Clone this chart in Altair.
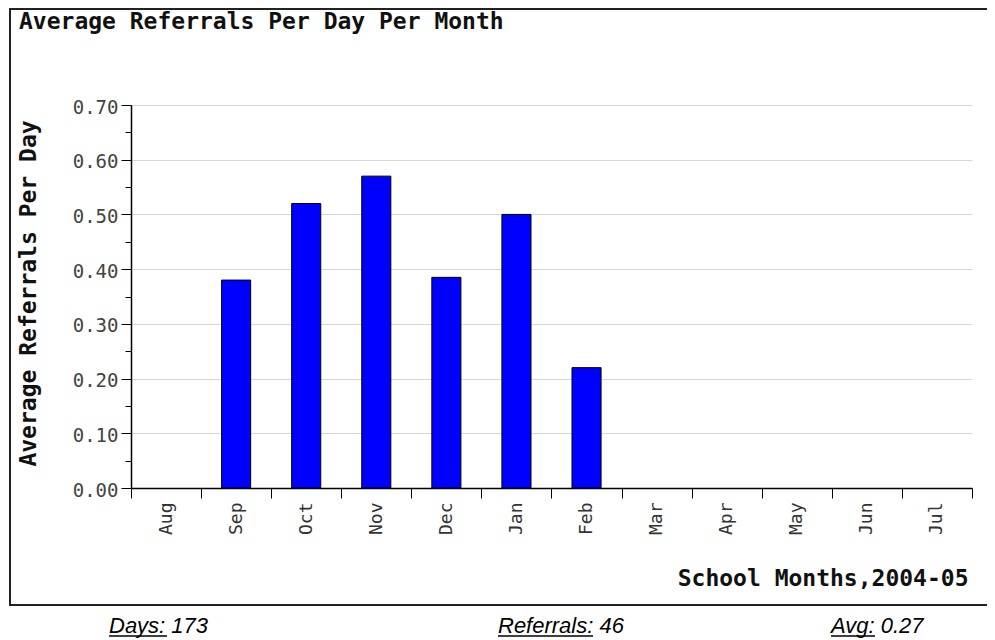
import altair as alt
import pandas as pd

# ---- data ----
MONTHS = ["Aug", "Sep", "Oct", "Nov", "Dec", "Jan", "Feb", "Mar", "Apr", "May", "Jun", "Jul"]
AVG_PER_DAY = [0.0, 0.38, 0.52, 0.57, 0.385, 0.50, 0.22, 0.0, 0.0, 0.0, 0.0, 0.0]
Y_TICKS = [0.0, 0.05, 0.10, 0.15, 0.20, 0.25, 0.30, 0.35, 0.40, 0.45, 0.50, 0.55, 0.60, 0.65, 0.70]
TITLE = "Average Referrals Per Day Per Month"
Y_TITLE = "Average Referrals Per Day"
X_TITLE = "School Months,2004-05"
FOOTER = ["Days: 173", "Referrals: 46", "Avg: 0.27"]

df = pd.DataFrame({"month": MONTHS, "avg": AVG_PER_DAY})

# plot-area origin in page pixels (for decoration placement)
X0, Y0 = 131, 105
W, H = 841, 383

MONO = "DejaVu Sans Mono"
major = "round(datum.value*20) % 2 == 0"

bars = alt.Chart(df).transform_filter("datum.avg > 0").mark_bar(
    color="#0000ff", stroke="#000000", strokeWidth=1, width=alt.RelativeBandSize(0.415)
).encode(
    x=alt.X(
        "month:N",
        sort=MONTHS,
        scale=alt.Scale(domain=MONTHS, paddingInner=0, paddingOuter=0),
        axis=alt.Axis(
            title=X_TITLE,
            titleFont=MONO, titleFontSize=23, titleFontWeight="bold", titleColor="#111",
            titleX=968 - X0, titleY=585 - (Y0 + H), titleAlign="right", titleBaseline="alphabetic",
            titleAnchor="end",
            labelAngle=270, labelFont=MONO, labelFontSize=18, labelColor="#333",
            labelPadding=4, tickSize=10, tickColor="#000", tickBand="extent",
            domainColor="#000", domainWidth=1.5, grid=False,
        ),
    ),
    y=alt.Y(
        "avg:Q",
        scale=alt.Scale(domain=[0, 0.7], nice=False, zero=True),
        axis=alt.Axis(
            values=Y_TICKS,
            labelExpr=f"{major} ? format(datum.value, '.2f') : ''",
            title=Y_TITLE,
            titleFont=MONO, titleFontSize=23, titleFontWeight="bold", titleColor="#111",
            titleAngle=270, titleX=35 - X0, titleY=188, titleAlign="center",
            titleBaseline="alphabetic",
            labelFont=MONO, labelFontSize=19, labelColor="#444", labelPadding=3,
            labelBaseline="middle", labelOffset=2,
            tickColor="#000",
            tickSize={"condition": {"test": major, "value": 10}, "value": 6},
            domainColor="#000", domainWidth=1.5,
            grid=True, gridColor="#d6d6d6", gridWidth=1,
            gridOpacity={"condition": {"test": major, "value": 1}, "value": 0},
        ),
    ),
)

one = alt.Data(values=[{}])

frame = alt.Chart(one).mark_rect(fillOpacity=0, stroke="#222", strokeWidth=2).encode(
    x=alt.value(10 - X0), x2=alt.value(1010 - X0),
    y=alt.value(9 - Y0), y2=alt.value(605 - Y0),
)

title = alt.Chart(alt.Data(values=[{"t": TITLE}])).mark_text(
    font=MONO, fontSize=23, fontWeight="bold", color="#111", align="left", baseline="alphabetic"
).encode(text="t:N", x=alt.value(19 - X0), y=alt.value(29 - Y0))

footer_x = [109, 498, 831]
footer_ul = [58, 95, 44]
footer_layers = []
for txt, fx, ul in zip(FOOTER, footer_x, footer_ul):
    footer_layers.append(
        alt.Chart(alt.Data(values=[{"t": txt}])).mark_text(
            font="Liberation Sans", fontSize=22, fontStyle="italic", color="#000",
            align="left", baseline="alphabetic"
        ).encode(text="t:N", x=alt.value(fx - X0), y=alt.value(633 - Y0))
    )
    footer_layers.append(
        alt.Chart(one).mark_rule(color="#000", strokeWidth=1.5).encode(
            x=alt.value(fx - X0), x2=alt.value(fx + ul - X0), y=alt.value(636 - Y0)
        )
    )

chart = alt.layer(frame, bars, title, *footer_layers).properties(
    width=W, height=H,
    autosize=alt.AutoSizeParams(type="none"),
    padding={"left": X0 - 8, "top": Y0 - 8, "right": 987 - (X0 + W), "bottom": 640 - (Y0 + H)},
).configure_view(stroke=None)

chart.save("out.html", embed_options={"renderer": "svg", "actions": False})
